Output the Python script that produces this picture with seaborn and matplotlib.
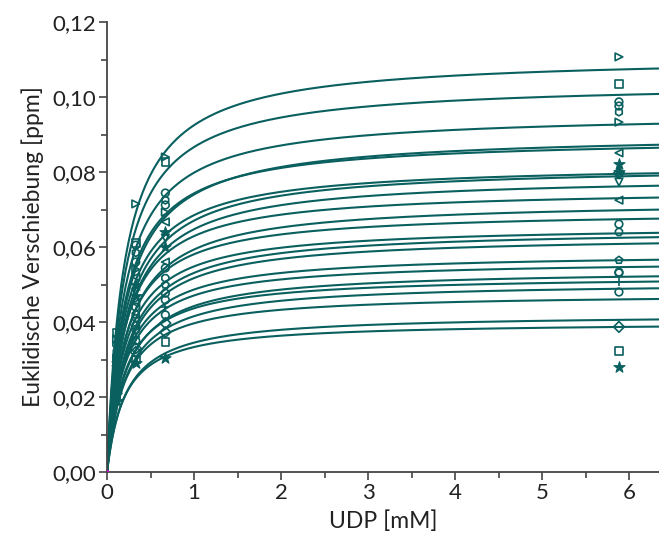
import numpy as np
import pandas as pd
import seaborn as sns
import matplotlib
matplotlib.use("Agg")
import matplotlib.pyplot as plt
from matplotlib.ticker import FuncFormatter, MultipleLocator

# fitted binding curves (one per peak): Bmax [ppm], Kd [mM]
bmax = [0.1110, 0.1040, 0.0958, 0.0903, 0.0892, 0.0822, 0.0818, 0.0790,
        0.0755, 0.0724, 0.0697, 0.0658, 0.0648, 0.0631, 0.0584, 0.0565,
        0.0540, 0.0524, 0.0507, 0.0476, 0.0421, 0.0400]
kd = [0.20, 0.20, 0.20, 0.22, 0.20, 0.20, 0.22, 0.22, 0.20, 0.22, 0.20,
      0.20, 0.22, 0.22, 0.20, 0.20, 0.22, 0.20, 0.22, 0.20, 0.22, 0.20]

# measured titration points
udp = [0.11, 0.33, 0.67, 5.88]
shift_011 = [0.0355, 0.0370, 0.0340, 0.0320, 0.0310, 0.0300, 0.0300, 0.0290,
             0.0280, 0.0280, 0.0270, 0.0260, 0.0260, 0.0250, 0.0250, 0.0240,
             0.0230, 0.0230, 0.0220, 0.0210, 0.0200, 0.0190]
shift_033 = [0.0715, 0.0610, 0.0605, 0.0585, 0.0560, 0.0540, 0.0520, 0.0500,
             0.0480, 0.0470, 0.0450, 0.0440, 0.0420, 0.0410, 0.0390, 0.0380,
             0.0360, 0.0350, 0.0330, 0.0320, 0.0300, 0.0290]
shift_067 = [0.0840, 0.0827, 0.0744, 0.0725, 0.0712, 0.0693, 0.0667, 0.0640,
             0.0624, 0.0600, 0.0560, 0.0544, 0.0517, 0.0499, 0.0477, 0.0459,
             0.0440, 0.0419, 0.0397, 0.0373, 0.0347, 0.0304]
shift_588 = [0.1107, 0.1035, 0.0987, 0.0960, 0.0976, 0.0933, 0.0851, 0.0821,
             0.0773, 0.0800, 0.0725, 0.0661, 0.0640, 0.0565, 0.0533, 0.0531,
             0.0507, 0.0480, 0.0797, 0.0387, 0.0323, 0.0280]
markers = ['>', 's', 'o', 'h', 'o', '>', '<', '*', 'v', '*', '<', 'o',
           '8', 'p', 'o', 'o', '+', 'o', 'D', 'D', 's', '*']

col = "#0a5f5f"

sns.set_theme(style="ticks")
plt.rcParams['font.family'] = ['Lato', 'DejaVu Sans']

fig = plt.figure(figsize=(6.59, 5.41), dpi=100)
ax = fig.add_axes([0.1624, 0.1275, 0.8376, 0.8318])

xs = np.linspace(0, 6.5, 400)
rows = []
for i, (b, k) in enumerate(zip(bmax, kd)):
    for xv in xs:
        rows.append((i, xv, b * xv / (k + xv)))
curves = pd.DataFrame(rows, columns=["peak", "udp", "shift"])
sns.lineplot(data=curves, x="udp", y="shift", hue="peak",
             palette=[col] * len(bmax), legend=False, lw=1.5, ax=ax,
             estimator=None, sort=False)

for i, m in enumerate(markers):
    yv = [shift_011[i], shift_033[i], shift_067[i], shift_588[i]]
    if m in ('+', 'x'):
        sns.scatterplot(x=udp, y=yv, marker=m, s=34, color=col, linewidth=1.2, ax=ax)
    elif m == '*':
        sns.scatterplot(x=udp, y=yv, marker=m, s=70, color=col, edgecolor=col,
                        linewidth=0.8, ax=ax)
    else:
        sns.scatterplot(x=udp, y=yv, marker=m, s=30, color=col, facecolor='none',
                        edgecolor=col, linewidth=1.2, ax=ax)

sns.scatterplot(x=[0], y=[0], color="#d000d0", s=10, edgecolor="none", ax=ax, zorder=5)

ax.set_xlim(0, 6.34)
ax.set_ylim(0, 0.12)
ax.xaxis.set_major_locator(MultipleLocator(1))
ax.xaxis.set_minor_locator(MultipleLocator(0.5))
ax.yaxis.set_major_locator(MultipleLocator(0.02))
ax.yaxis.set_minor_locator(MultipleLocator(0.01))
ax.yaxis.set_major_formatter(FuncFormatter(lambda v, p: f"{v:.2f}".replace(".", ",")))
ax.tick_params(which="major", length=6, width=1.2, color="#444444", labelsize=16,
               labelcolor="#222222", pad=2)
ax.tick_params(which="minor", length=4, width=1.2, color="#444444")
for s in ["top", "right"]:
    ax.spines[s].set_visible(False)
for s in ["left", "bottom"]:
    ax.spines[s].set_color("#444444")
    ax.spines[s].set_linewidth(1.3)

ax.set_xlabel("UDP [mM]", fontsize=16.5, color="#222222", labelpad=5)
ax.set_ylabel("Euklidische Verschiebung [ppm]", fontsize=16.5, color="#222222", labelpad=6)

fig.savefig("out.png", dpi=100)
